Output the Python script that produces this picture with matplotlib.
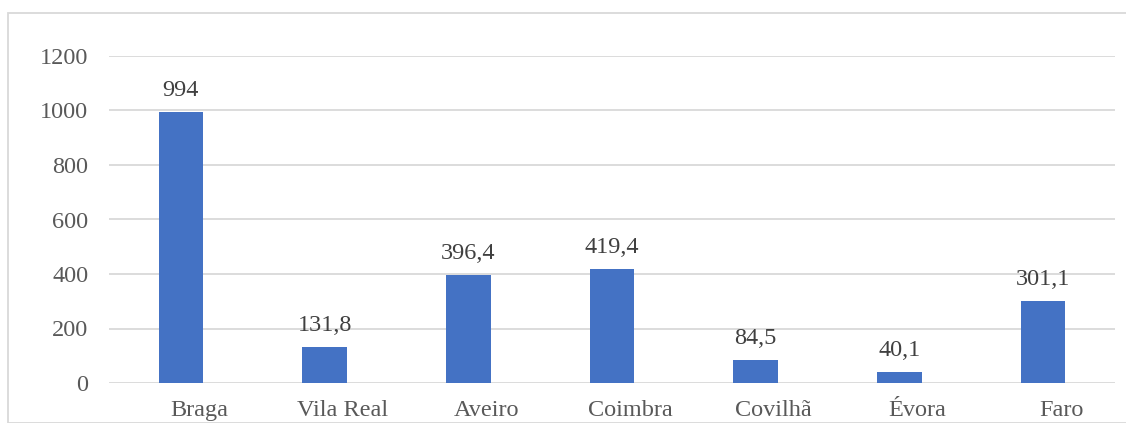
import matplotlib
matplotlib.use("Agg")
import matplotlib.pyplot as plt
from matplotlib.patches import Rectangle
from matplotlib.transforms import offset_copy

categories = ["Braga", "Vila Real", "Aveiro", "Coimbra", "Covilhã", "Évora", "Faro"]
values = [994, 131.8, 396.4, 419.4, 84.5, 40.1, 301.1]
value_labels = ["994", "131,8", "396,4", "419,4", "84,5", "40,1", "301,1"]
yticks = [0, 200, 400, 600, 800, 1000, 1200]

W, H = 1126, 423
FS = 17.5
fig = plt.figure(figsize=(W / 100, H / 100), dpi=100)
plt.rcParams["font.family"] = ["Liberation Serif", "DejaVu Serif"]

# chart frame
fig.patches.append(Rectangle((8 / W, 0), 1.2, 1 - 13 / H, transform=fig.transFigure,
                             fill=False, edgecolor="#D9D9D9", linewidth=1.3))

ax = fig.add_axes([109 / W, 40 / H, (1115 - 109) / W, (383 - 56) / H])
x = range(len(categories))
ax.bar(x, values, width=0.31, color="#4472C4", zorder=3)
ax.set_xlim(-0.5, len(categories) - 0.5)
ax.set_ylim(0, 1200)
ax.set_yticks(yticks)
ax.set_yticklabels([str(t) for t in yticks], fontsize=FS, color="#595959")
ax.yaxis.grid(True, color="#D9D9D9", linewidth=1.3, zorder=0)
ax.tick_params(axis="y", length=0, pad=15)
ax.tick_params(axis="x", length=0)
ax.set_xticks([])
for s in ax.spines.values():
    s.set_visible(False)

label_tr = offset_copy(ax.transData, fig=fig, x=18, y=-27, units="dots")
value_tr = offset_copy(ax.transData, fig=fig, x=0, y=11, units="dots")
for i, (cat, v, lab) in enumerate(zip(categories, values, value_labels)):
    ax.text(i, v, lab, ha="center", va="bottom", fontsize=FS, color="#404040",
            transform=value_tr)
    ax.text(i, 0, cat, ha="center", va="center", fontsize=FS, color="#595959",
            transform=label_tr)

fig.savefig("out.png", dpi=100)
